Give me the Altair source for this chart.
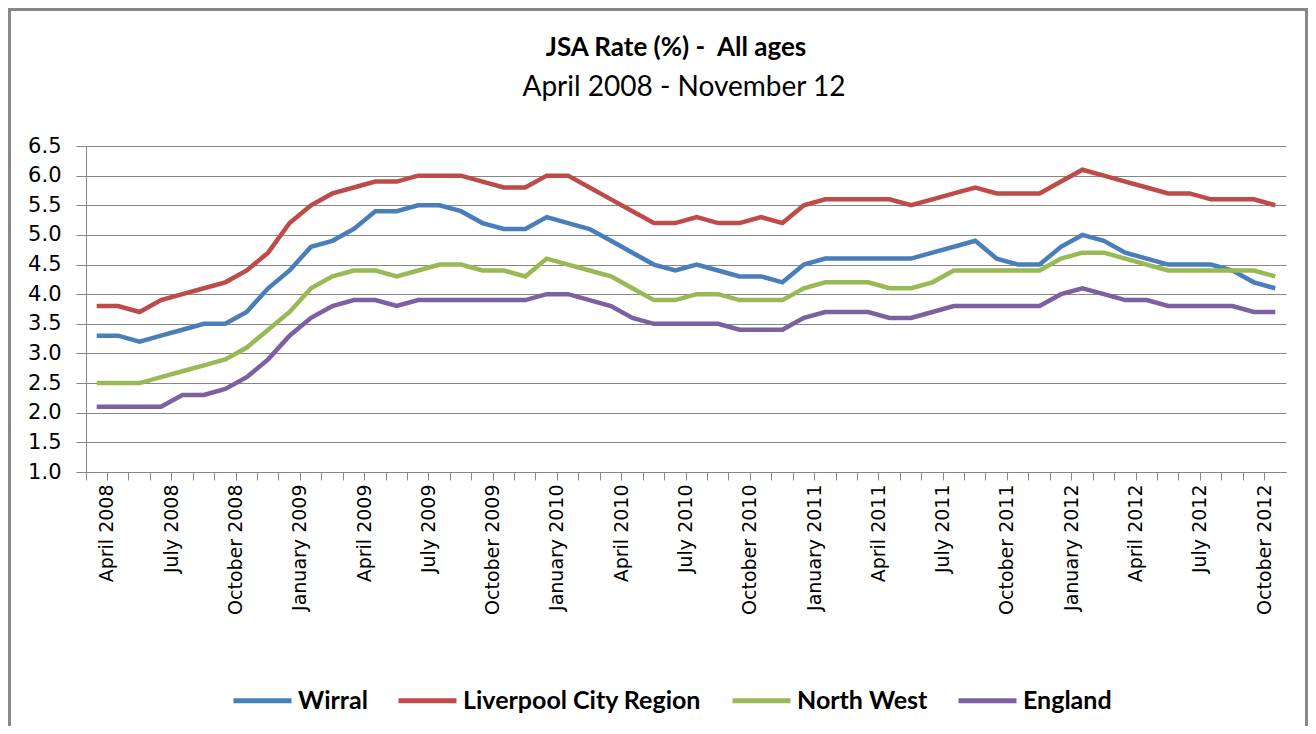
import altair as alt
import pandas as pd

# ---- categories -------------------------------------------------------------
MONTH_NAMES = ["January", "February", "March", "April", "May", "June", "July",
               "August", "September", "October", "November", "December"]
months = [f"{MONTH_NAMES[(3 + k) % 12]} {2008 + (3 + k) // 12}" for k in range(56)]

series_names = ["Wirral", "Liverpool City Region", "North West", "England"]
series_colors = ["#4A7EBB", "#BE4B48", "#98B954", "#7D60A0"]

# ---- values (JSA rate, %) ------------------------------------------------------
wirral = [3.3, 3.3, 3.2, 3.3, 3.4, 3.5, 3.5, 3.7, 4.1, 4.4, 4.8, 4.9, 5.1, 5.4, 5.4, 5.5, 5.5,
          5.4, 5.2, 5.1, 5.1, 5.3, 5.2, 5.1, 4.9, 4.7, 4.5, 4.4, 4.5, 4.4, 4.3, 4.3, 4.2, 4.5, 4.6, 4.6, 4.6,
          4.6, 4.6, 4.7, 4.8, 4.9, 4.6, 4.5, 4.5, 4.8, 5.0, 4.9, 4.7, 4.6, 4.5, 4.5, 4.5, 4.4, 4.2, 4.1]
lcr = [3.8, 3.8, 3.7, 3.9, 4.0, 4.1, 4.2, 4.4, 4.7, 5.2, 5.5, 5.7, 5.8, 5.9, 5.9, 6.0, 6.0,
       6.0, 5.9, 5.8, 5.8, 6.0, 6.0, 5.8, 5.6, 5.4, 5.2, 5.2, 5.3, 5.2, 5.2, 5.3, 5.2, 5.5, 5.6, 5.6, 5.6,
       5.6, 5.5, 5.6, 5.7, 5.8, 5.7, 5.7, 5.7, 5.9, 6.1, 6.0, 5.9, 5.8, 5.7, 5.7, 5.6, 5.6, 5.6, 5.5]
north_west = [2.5, 2.5, 2.5, 2.6, 2.7, 2.8, 2.9, 3.1, 3.4, 3.7, 4.1, 4.3, 4.4, 4.4, 4.3, 4.4, 4.5,
              4.5, 4.4, 4.4, 4.3, 4.6, 4.5, 4.4, 4.3, 4.1, 3.9, 3.9, 4.0, 4.0, 3.9, 3.9, 3.9, 4.1, 4.2, 4.2, 4.2,
              4.1, 4.1, 4.2, 4.4, 4.4, 4.4, 4.4, 4.4, 4.6, 4.7, 4.7, 4.6, 4.5, 4.4, 4.4, 4.4, 4.4, 4.4, 4.3]
england = [2.1, 2.1, 2.1, 2.1, 2.3, 2.3, 2.4, 2.6, 2.9, 3.3, 3.6, 3.8, 3.9, 3.9, 3.8, 3.9, 3.9,
           3.9, 3.9, 3.9, 3.9, 4.0, 4.0, 3.9, 3.8, 3.6, 3.5, 3.5, 3.5, 3.5, 3.4, 3.4, 3.4, 3.6, 3.7, 3.7, 3.7,
           3.6, 3.6, 3.7, 3.8, 3.8, 3.8, 3.8, 3.8, 4.0, 4.1, 4.0, 3.9, 3.9, 3.8, 3.8, 3.8, 3.8, 3.7, 3.7]

y_ticks = [1.0, 1.5, 2.0, 2.5, 3.0, 3.5, 4.0, 4.5, 5.0, 5.5, 6.0, 6.5]

title_text = "JSA Rate (%) -\u00a0 All ages"
subtitle_text = "April 2008 - November 12"

rows = []
for name, vals in zip(series_names, [wirral, lcr, north_west, england]):
    for m, v in zip(months, vals):
        rows.append({"month": m, "series": name, "rate": v})
df = pd.DataFrame(rows)

W, H = 1200, 326
GRAY = "#868686"
band = W / len(months)

x = alt.X(
    "month:N", sort=months, bandPosition=0.5,
    scale=alt.Scale(type="band", paddingInner=0, paddingOuter=0),
    axis=alt.Axis(
        title=None, bandPosition=0, labelOffset=band / 2, labelAngle=270,
        labelAlign="right", labelBaseline="middle",
        labelExpr="test(/^(January|April|July|October)/, datum.label) ? datum.label : ''",
        labelOverlap=False, labelFont="DejaVu Sans", labelFontSize=19, labelColor="black",
        labelPadding=4, tickSize=8, tickColor=GRAY, tickWidth=1, domainColor=GRAY,
        domainWidth=1, grid=False,
    ),
)
y = alt.Y(
    "rate:Q",
    scale=alt.Scale(domain=[1.0, 6.5], nice=False, zero=False),
    axis=alt.Axis(
        title=None, values=y_ticks, format=".1f", grid=True, gridColor=GRAY, gridWidth=1,
        tickSize=10, tickColor=GRAY, tickWidth=1, domainColor=GRAY, domainWidth=1,
        labelFont="DejaVu Sans", labelFontSize=21, labelColor="black", labelPadding=15,
    ),
)
color = alt.Color(
    "series:N", sort=series_names,
    scale=alt.Scale(domain=series_names, range=series_colors),
    legend=alt.Legend(
        title=None, orient="none", legendX=145, legendY=523, direction="horizontal",
        symbolType="stroke", symbolSize=3364, symbolStrokeWidth=5,
        labelFont="Lato", labelFontSize=25, labelFontWeight="bold", labelColor="black",
        labelOffset=4, columnPadding=20, padding=0, labelLimit=0,
    ),
)

lines = alt.Chart(df).mark_line(strokeWidth=4.5).encode(x=x, y=y, color=color)

one = alt.Data(values=[{"k": 1}])
title = alt.Chart(one).mark_text(
    font="Lato", fontSize=26, fontWeight="bold", align="center", baseline="middle", color="black"
).encode(text=alt.value(title_text), x=alt.value(590), y=alt.value(-98))
subtitle = alt.Chart(one).mark_text(
    font="Lato", fontSize=28, align="center", baseline="middle", color="black"
).encode(text=alt.value(subtitle_text), x=alt.value(598), y=alt.value(-58))
frame = alt.Chart(one).mark_rect(
    fillOpacity=0, stroke="#888888", strokeWidth=3
).encode(x=alt.value(-76.5), x2=alt.value(1220.5), y=alt.value(-136.5), y2=alt.value(620))

chart = alt.layer(frame, lines, title, subtitle).properties(
    width=W, height=H,
    autosize=alt.AutoSizeParams(type="none"),
    padding={"left": 78, "top": 138, "right": 22, "bottom": 254},
    background="white",
).configure_view(stroke="transparent")

chart.save("out.html", embed_options={"renderer": "svg", "actions": False})
